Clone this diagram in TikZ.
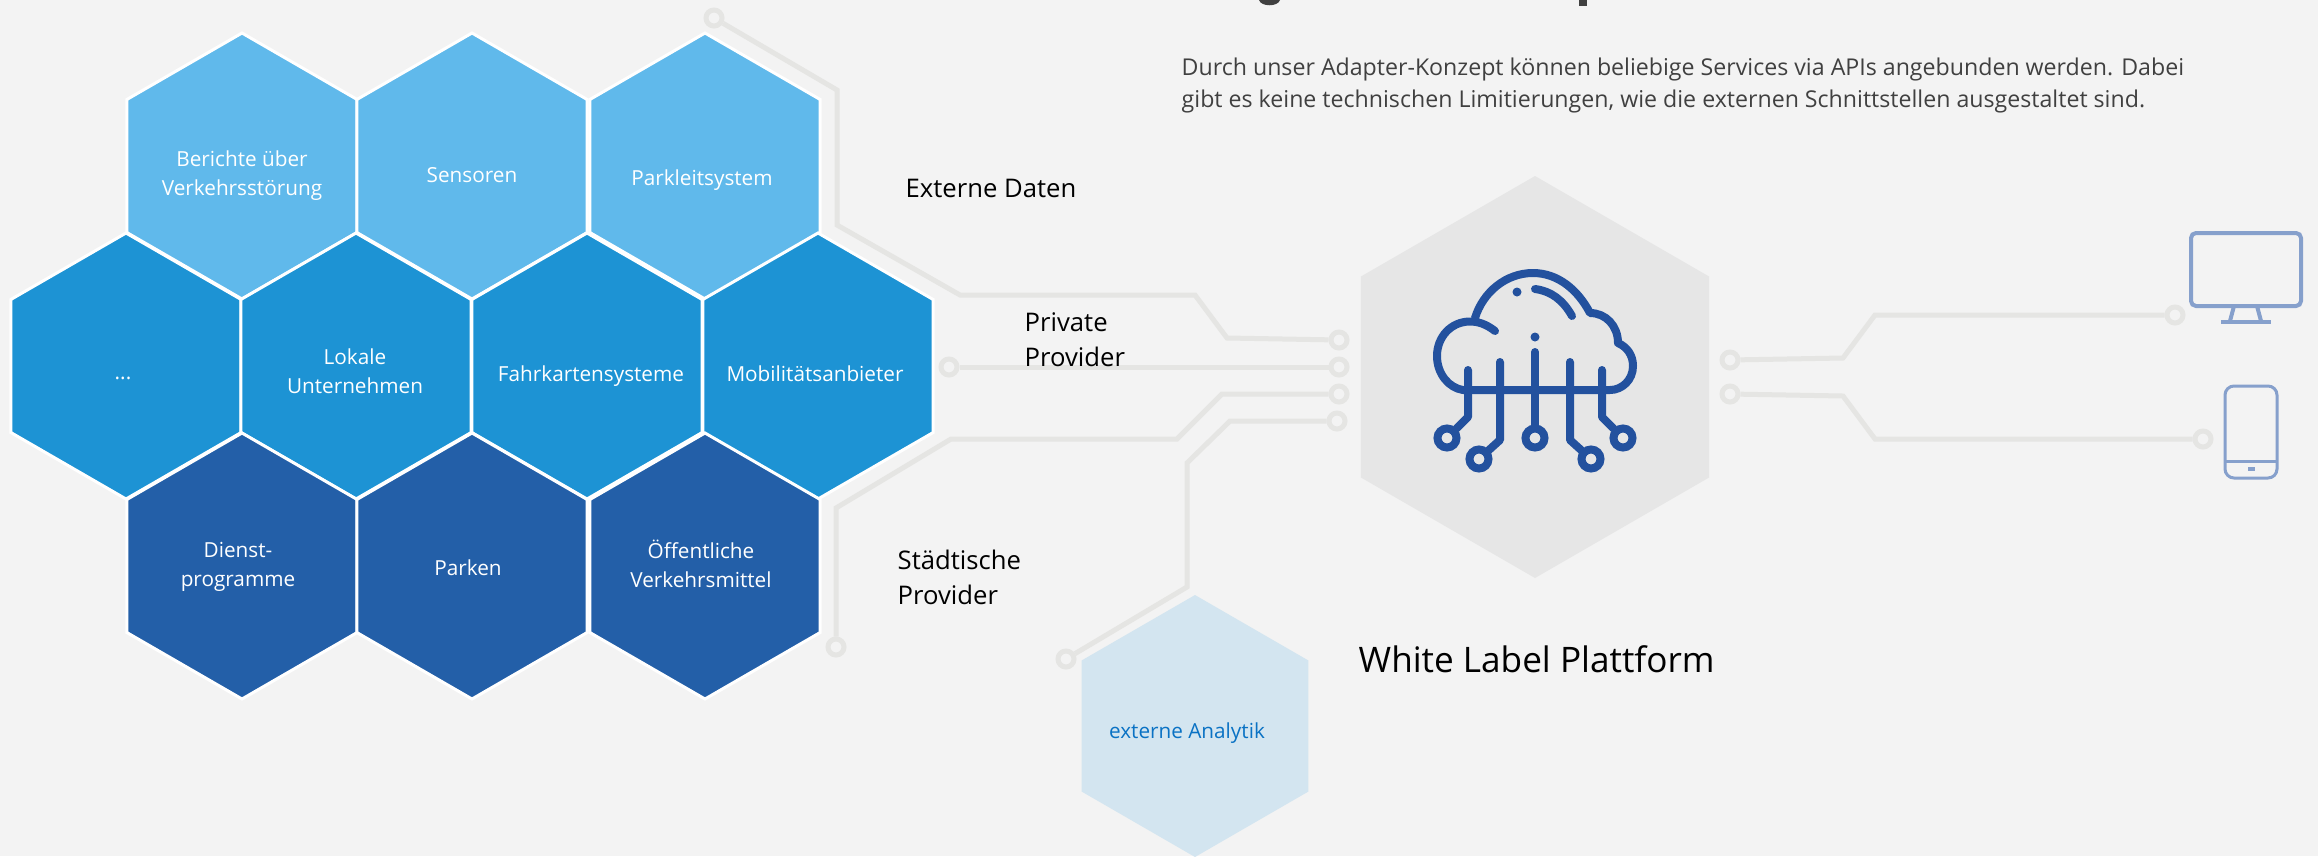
\documentclass[tikz,border=0pt]{standalone}
\usepackage{fontspec}
\setmainfont{Open Sans}
\usetikzlibrary{shapes.geometric}

\definecolor{bgcol}{HTML}{F3F3F3}
\definecolor{wirecol}{HTML}{E5E5E3}
\definecolor{lightcol}{HTML}{60B9EB}
\definecolor{midcol}{HTML}{1D93D4}
\definecolor{darkcol}{HTML}{235FA8}
\definecolor{palecol}{HTML}{D3E5F0}
\definecolor{platcol}{HTML}{E6E6E6}
\definecolor{iconcol}{HTML}{23519E}
\definecolor{devcol}{HTML}{86A0CC}
\definecolor{anacol}{HTML}{0A72C4}

\tikzset{
  hexa/.style={regular polygon, regular polygon sides=6, shape border rotate=30, inner sep=0pt, outer sep=0pt, minimum size=26.6mm, draw=white, line width=.3mm},
  hexlight/.style={hexa, fill=lightcol},
  hexmid/.style={hexa, fill=midcol},
  hexdark/.style={hexa, fill=darkcol},
  hexplat/.style={hexa, draw=none, fill=platcol, minimum size=40.2mm},
  hexpale/.style={hexa, draw=none, fill=palecol, minimum size=26.2mm},
  hextext/.style={text=white, align=center, inner sep=0pt, font=\fontsize{5.9}{8.3}\selectfont},
  lbl/.style={text=black, align=left, inner sep=0pt, anchor=west, font=\fontsize{7.3}{10}\selectfont},
  ring/.style={circle, draw=wirecol, line width=.5mm, fill=bgcol, minimum size=1.6mm, inner sep=0pt},
  wire/.style={draw=wirecol, line width=.5mm},
  iconline/.style={draw=iconcol, line width=.8mm, line cap=round, line join=round},
  iconring/.style={circle, draw=iconcol, line width=.8mm, minimum size=1.9mm, inner sep=0pt},
  icondot/.style={circle, fill=iconcol, minimum size=.9mm, inner sep=0pt},
  device/.style={draw=devcol, line width=.4mm}
}

\begin{document}
\begin{tikzpicture}[x=.1mm,y=-.1mm]
\fill[bgcol] (0,0) rectangle (2318,856);
\useasboundingbox (0,0) rectangle (2318,856);

% wires left
\node(R1)[ring] at (714,18) {};
\node(R2)[ring] at (1339,340) {};
\node(R3)[ring] at (949,367) {};
\node(R4)[ring] at (1339,367) {};
\node(R5)[ring] at (1339,394) {};
\node(R6)[ring] at (836,647) {};
\node(R7)[ring] at (1337,421) {};
\node(R8)[ring] at (1066,659) {};

\draw[wire] (R1) -- (837,90) -- (837,225) -- (960,295) -- (1195,295) -- (1227,338) -- (R2);
\draw[wire] (R3) -- (R4);
\draw[wire] (R5) -- (1222,394) -- (1177,439) -- (951,439) -- (836,508) -- (R6);
\draw[wire] (R7) -- (1230,421) -- (1187,463) -- (1187,587) -- (R8);

% wires right
\node(R9)[ring] at (1730,360) {};
\node(R10)[ring] at (2175,315) {};
\node(R11)[ring] at (1730,394) {};
\node(R12)[ring] at (2203,439) {};

\draw[wire] (R9) -- (1843,358) -- (1875,315) -- (R10);
\draw[wire] (R11) -- (1843,396) -- (1875,439) -- (R12);

% hexagons
\node(H1)[hexlight] at (242,166) {};
\node(H2)[hexlight] at (472,166) {};
\node(H3)[hexlight] at (705,166) {};
\node(H4)[hexmid] at (126,366) {};
\node(H5)[hexmid] at (356,366) {};
\node(H6)[hexmid] at (587,366) {};
\node(H7)[hexmid] at (818,366) {};
\node(H8)[hexdark] at (242,566) {};
\node(H9)[hexdark] at (472,566) {};
\node(H10)[hexdark] at (705,566) {};
\node(Plat)[hexplat] at (1535,377) {};
\node(Ana)[hexpale] at (1195,726) {};

\node(T1)[hextext] at (242,176) {Berichte über\\Verkehrsstörung};
\node(T2)[hextext] at (472,175) {Sensoren};
\node(T3)[hextext] at (702,180) {Parkleitsystem};
\node(T4)[hextext] at (123,378) {...};
\node(T5)[hextext] at (355,371) {Lokale\\Unternehmen};
\node(T6)[hextext] at (591,376) {Fahrkartensysteme};
\node(T7)[hextext] at (815,374) {Mobilitätsanbieter};
\node(T8)[hextext] at (238,567) {Dienst-\\programme};
\node(T9)[hextext] at (468,568) {Parken};
\node(T10)[hextext] at (701,564) {Öffentliche\\Verkehrsmittel};
\node(T11)[hextext, text=anacol] at (1187,733) {externe Analytik};

% labels
\node(Ext)[lbl] at (905,188) {Externe Daten};
\node(Priv)[lbl] at (1024,340) {Private\\Provider};
\node(Stadt)[lbl] at (897,577) {Städtische\\Provider};
\node(White)[lbl, font=\fontsize{10}{12}\selectfont] at (1358,659) {White Label Plattform};
\node(Desc)[lbl, text=black!75, font=\fontsize{6.59}{9.1}\selectfont] at (1181,85) {Durch unser Adapter-Konzept können beliebige Services via APIs angebunden werden. Dabei\\gibt es keine technischen Limitierungen, wie die externen Schnittstellen ausgestaltet sind.};

% cut off title
\fill[black!75] (1259,0) .. controls (1261,7) and (1278,7) .. (1280,0) -- cycle;
\fill[black!75] (1579,0) rectangle (1587,6);

% cloud
\node(C1)[iconring] at (1447,438) {};
\node(C2)[iconring] at (1479,459) {};
\node(C3)[iconring] at (1535,438) {};
\node(C4)[iconring] at (1591,459) {};
\node(C5)[iconring] at (1623,438) {};
\node(D1)[icondot] at (1517,292) {};
\node(D2)[icondot] at (1535,337) {};

\draw[iconline] (1495,331) .. controls (1486,324) and (1478,321.5) .. (1470,321.5) .. controls (1451,321.5) and (1437,337) .. (1437,356) .. controls (1437,374) and (1449,388) .. (1463,390) -- (1610,390) .. controls (1622,390) and (1633,380) .. (1633,366) .. controls (1633,355) and (1627,347) .. (1618,343) .. controls (1618,326) and (1606,313) .. (1590,313) .. controls (1578,290) and (1558,273) .. (1533,273) .. controls (1506,273) and (1483,292) .. (1475,318);
\draw[iconline] (1535,289) .. controls (1551,291) and (1563,300) .. (1572,316);
\draw[iconline] (1468,370) -- (1468,417) -- (C1);
\draw[iconline] (1500,362) -- (1500,440) -- (C2);
\draw[iconline] (1535,352) -- (C3);
\draw[iconline] (1570,362) -- (1570,440) -- (C4);
\draw[iconline] (1602,370) -- (1602,417) -- (C5);

% monitor
\draw[device, rounded corners=.5mm] (2191,233) rectangle (2301,306);
\draw[device] (2234,306) -- (2230,321);
\draw[device] (2257,306) -- (2261,321);
\draw[device] (2221,322) -- (2271,322);

% phone
\draw[device, line width=.3mm, rounded corners=.9mm] (2225,386) rectangle (2277,478);
\draw[device, line width=.3mm] (2225,461) -- (2277,461);
\fill[devcol] (2248,467) rectangle (2255,471);
\end{tikzpicture}
\end{document}
